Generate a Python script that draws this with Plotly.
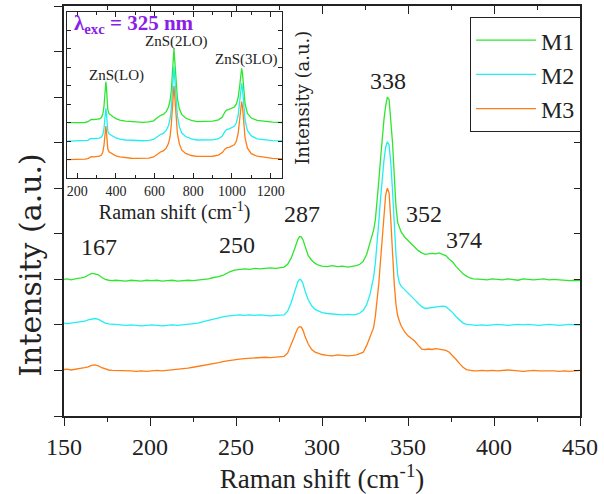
import plotly.graph_objects as go

# ---------------- main spectra ----------------
raman_shift = [150, 152, 154, 156, 158, 160, 162, 164, 166, 168, 170, 172, 174, 176, 178, 180,
               183, 186, 189, 192, 195, 198, 201, 204, 207, 210, 213, 216, 219, 222, 225, 228,
               231, 234, 237, 240, 243, 246, 249, 252, 255, 258, 261, 264, 267, 270, 273, 276,
               278, 280, 282, 284,
               285, 286, 287, 288, 289, 290,
               292, 294, 296, 298, 300,
               303, 306, 309, 312, 315, 318,
               320, 322, 324, 326, 328, 330,
               331, 332, 333, 334, 335, 336, 337, 338, 339, 340, 341, 342, 343, 344, 345, 346,
               348, 350, 352, 354, 356, 358, 360, 362, 364, 366, 368, 370, 372, 374, 376, 378,
               380, 382, 384, 386, 388, 390,
               393, 396, 399, 402, 405, 408, 411, 414, 417, 420, 423, 426, 429, 432, 435, 438,
               441, 444, 447, 450]

m1 = [3.00, 3.01, 2.99, 3.01, 3.02, 3.03, 3.05, 3.09, 3.13, 3.12, 3.10, 3.04, 3.00, 2.98, 2.97, 2.98,
      2.97, 2.96, 2.98, 2.97, 2.96, 2.98, 2.97, 2.98, 2.96, 2.97, 2.98, 2.96, 2.97, 2.98, 2.97, 2.98,
      3.00, 3.01, 3.04, 3.06, 3.10, 3.16, 3.20, 3.22, 3.23, 3.22, 3.24, 3.23, 3.24, 3.25, 3.24, 3.26,
      3.27, 3.33, 3.46, 3.66,
      3.78, 3.88, 3.94, 3.93, 3.86, 3.74,
      3.52, 3.42, 3.35, 3.31, 3.29,
      3.28, 3.30, 3.28, 3.29, 3.27, 3.29,
      3.30, 3.33, 3.40, 3.55, 3.80, 4.08,
      4.30, 4.65, 5.15, 5.62, 6.10, 6.50, 6.80, 7.00, 6.95, 6.55, 6.00, 5.30, 4.60, 4.25, 4.12, 4.04,
      3.93, 3.85, 3.78, 3.70, 3.63, 3.58, 3.55, 3.56, 3.57, 3.56, 3.58, 3.55, 3.52, 3.44, 3.38, 3.28,
      3.19, 3.12, 3.07, 3.03, 3.01, 3.00,
      3.00, 2.99, 3.01, 3.00, 2.99, 3.01, 3.00, 2.98, 3.01, 3.00, 2.99, 3.00, 3.01, 2.99, 3.00, 2.99,
      2.98, 2.97, 2.98, 2.97]

m2 = [2.04, 2.03, 2.04, 2.05, 2.05, 2.06, 2.08, 2.11, 2.13, 2.14, 2.12, 2.08, 2.04, 2.02, 2.01, 2.01,
      2.00, 1.99, 2.00, 1.99, 1.98, 1.99, 2.00, 1.99, 1.98, 1.99, 2.00, 1.99, 2.00, 2.01, 2.02, 2.04,
      2.07, 2.10, 2.13, 2.16, 2.18, 2.20, 2.21, 2.22, 2.21, 2.22, 2.21, 2.22, 2.21, 2.20, 2.21, 2.21,
      2.22, 2.30, 2.48, 2.72,
      2.85, 2.95, 3.00, 2.98, 2.90, 2.76,
      2.55, 2.42, 2.34, 2.30, 2.27,
      2.25, 2.24, 2.23, 2.22, 2.23, 2.22,
      2.23, 2.26, 2.32, 2.45, 2.68, 3.05,
      3.35, 3.75, 4.25, 4.75, 5.20, 5.60, 5.90, 6.02, 5.95, 5.55, 4.95, 4.20, 3.55, 3.10, 2.92, 2.85,
      2.78, 2.70, 2.62, 2.55, 2.47, 2.40, 2.36, 2.37, 2.38, 2.39, 2.40, 2.41, 2.40, 2.34, 2.27, 2.18,
      2.10, 2.04, 2.01, 2.00, 1.99, 1.99,
      2.00, 1.99, 2.00, 2.01, 2.00, 1.99, 2.00, 2.01, 2.00, 2.01, 2.00, 1.99, 2.00, 2.01, 2.00, 1.99,
      2.00, 2.01, 2.00, 2.00]

m3 = [1.02, 1.03, 1.01, 1.02, 1.03, 1.04, 1.06, 1.08, 1.11, 1.12, 1.10, 1.06, 1.03, 1.01, 1.00, 1.00,
      0.99, 1.00, 0.99, 0.98, 0.99, 0.98, 0.99, 1.00, 0.99, 1.00, 1.01, 1.02, 1.03, 1.05, 1.07, 1.09,
      1.10, 1.12, 1.15, 1.17, 1.20, 1.22, 1.24, 1.25, 1.26, 1.27, 1.27, 1.28, 1.29, 1.28, 1.29, 1.30,
      1.31, 1.38, 1.55, 1.75,
      1.85, 1.93, 1.96, 1.95, 1.88, 1.76,
      1.58, 1.46, 1.40, 1.37, 1.35,
      1.33, 1.32, 1.34, 1.33, 1.32, 1.33,
      1.34, 1.37, 1.40, 1.55, 1.74, 1.94,
      2.18, 2.50, 2.90, 3.40, 3.95, 4.45, 4.85, 5.00, 4.90, 4.30, 3.55, 2.90, 2.45, 2.20, 2.08, 1.98,
      1.85, 1.76, 1.70, 1.64, 1.55, 1.47, 1.46, 1.47, 1.46, 1.48, 1.47, 1.46, 1.44, 1.40, 1.33, 1.24,
      1.15, 1.07, 1.02, 1.00, 0.99, 0.99,
      1.00, 0.99, 1.00, 0.99, 1.00, 1.01, 1.00, 0.99, 0.98, 0.99, 1.00, 0.99, 0.99, 1.00, 0.99, 0.98,
      0.99, 0.98, 0.99, 1.00]

# ---------------- inset spectra ----------------
inset_shift = [150, 180, 210, 240, 255, 265, 272, 285, 300, 315,
               325, 332, 338, 342, 345, 348, 351, 354, 358, 364,
               372, 385, 400, 420, 450, 480, 510, 540, 570, 595,
               612, 622, 632, 645, 660, 672, 680, 686, 690, 694,
               697, 700, 704, 710, 718, 728, 740, 760, 790, 820,
               860, 900, 930, 950, 962, 972, 985, 1000, 1012, 1022,
               1032, 1040, 1046, 1050, 1054, 1060, 1068, 1080, 1100, 1130,
               1170, 1210, 1260]

inset_m1 = [3.00, 3.00, 3.00, 3.01, 3.05, 3.15, 3.17, 3.16, 3.17, 3.20,
            3.28, 3.45, 3.85, 4.50, 5.05, 5.22, 4.90, 4.20, 3.70, 3.50,
            3.42, 3.32, 3.22, 3.14, 3.08, 3.05, 3.03, 3.02, 3.04, 3.10,
            3.25, 3.35, 3.40, 3.45, 3.60, 3.85, 4.20, 4.70, 5.40, 6.40,
            6.95, 7.00, 6.40, 5.20, 4.30, 3.75, 3.45, 3.25, 3.12, 3.06,
            3.05, 3.08, 3.15, 3.30, 3.55, 3.68, 3.72, 3.78, 3.85, 4.00,
            4.35, 5.00, 5.70, 5.95, 5.70, 4.80, 4.00, 3.50, 3.25, 3.12,
            3.06, 3.03, 3.01]

inset_m2 = [2.00, 2.00, 2.00, 2.01, 2.04, 2.12, 2.14, 2.13, 2.14, 2.16,
            2.22, 2.35, 2.65, 3.15, 3.60, 3.78, 3.50, 2.95, 2.55, 2.40,
            2.34, 2.26, 2.18, 2.11, 2.06, 2.04, 2.03, 2.02, 2.04, 2.09,
            2.22, 2.32, 2.37, 2.42, 2.58, 2.85, 3.20, 3.75, 4.45, 5.45,
            5.98, 6.04, 5.45, 4.25, 3.35, 2.78, 2.45, 2.25, 2.12, 2.06,
            2.05, 2.07, 2.13, 2.28, 2.50, 2.62, 2.66, 2.72, 2.80, 2.98,
            3.40, 4.15, 4.90, 5.13, 4.90, 3.95, 3.10, 2.58, 2.28, 2.12,
            2.06, 2.03, 2.01]

inset_m3 = [1.00, 1.00, 1.01, 1.02, 1.05, 1.14, 1.16, 1.15, 1.16, 1.18,
            1.25, 1.40, 1.75, 2.30, 2.70, 2.82, 2.50, 1.95, 1.58, 1.42,
            1.36, 1.28, 1.20, 1.14, 1.09, 1.07, 1.06, 1.06, 1.08, 1.14,
            1.28, 1.38, 1.42, 1.47, 1.62, 1.88, 2.25, 2.85, 3.55, 4.50,
            4.95, 4.99, 4.45, 3.30, 2.40, 1.85, 1.52, 1.33, 1.22, 1.17,
            1.16, 1.18, 1.24, 1.38, 1.55, 1.63, 1.66, 1.72, 1.80, 1.98,
            2.42, 3.20, 3.95, 4.14, 3.90, 2.98, 2.15, 1.62, 1.32, 1.18,
            1.10, 1.06, 1.04]

series_names = ["M1", "M2", "M3"]
colors = ["#2ee62e", "#22eef2", "#ff7d14"]

peak_labels = ["167", "250", "287", "338", "352", "374"]
peak_label_x = [170.2, 250.7, 288.2, 338.1, 359.1, 382.5]
peak_label_y = [3.71, 3.75, 4.43, 7.35, 4.43, 3.87]

inset_labels = ["ZnS(LO)", "ZnS(2LO)", "ZnS(3LO)"]
inset_label_x = [404, 711, 1075]
inset_label_y = [5.58, 7.38, 6.40]

FONT = "Liberation Serif"
VFONT = "DejaVu Serif"

fig = go.Figure()
main_series = [m1, m2, m3]
inset_series = [inset_m1, inset_m2, inset_m3]
for name, ys, c in zip(series_names, main_series, colors):
    fig.add_trace(go.Scatter(x=raman_shift, y=ys, mode="lines", name=name,
                             line=dict(color=c, width=1.3), xaxis="x", yaxis="y"))
for name, ys, c in zip(series_names, inset_series, colors):
    fig.add_trace(go.Scatter(x=inset_shift, y=ys, mode="lines", name=name, showlegend=False,
                             line=dict(color=c, width=1.3), xaxis="x2", yaxis="y2"))
# empty trace to create mirrored top/right axes
fig.add_trace(go.Scatter(x=[], y=[], showlegend=False, xaxis="x3", yaxis="y3"))

ann = []
for t, x, y in zip(peak_labels, peak_label_x, peak_label_y):
    ann.append(dict(text=t, x=x, y=y, xref="x", yref="y", showarrow=False,
                    font=dict(family=FONT, size=24, color="#222")))
for t, x, y in zip(inset_labels, inset_label_x, inset_label_y):
    ann.append(dict(text=t, x=x, y=y, xref="x2", yref="y2", showarrow=False,
                    font=dict(family=FONT, size=15, color="#222")))
ann.append(dict(text="<b>λ<sub>exc</sub> = 325 nm</b>", x=0.015, y=0.957, xref="paper", yref="paper",
                xanchor="left", yanchor="middle", showarrow=False,
                font=dict(family=FONT, size=21, color="#8a1ee8")))
ann.append(dict(text="Intensity (a.u.)", x=-0.065, y=0.37, xref="paper", yref="paper",
                xanchor="center", yanchor="middle",
                textangle=-90, showarrow=False, font=dict(family=VFONT, size=30, color="#222")))
ann.append(dict(text="Intensity (a.u.)", x=0.463, y=0.776, xref="paper", yref="paper",
                xanchor="center", yanchor="middle",
                textangle=-90, showarrow=False, font=dict(family=VFONT, size=18, color="#222")))

axis_common = dict(showgrid=False, zeroline=False, linecolor="#222", linewidth=1.6,
                   tickcolor="#222", showline=True)

fig.update_layout(
    width=604, height=494,
    margin=dict(l=64, r=20, t=6, b=78),
    paper_bgcolor="white", plot_bgcolor="white",
    font=dict(family=FONT, color="#222"),
    xaxis=dict(range=[150, 450], tickvals=[150, 200, 250, 300, 350, 400, 450],
               ticks="outside", ticklen=8, tickwidth=1.3,
               minor=dict(dtick=25, tick0=150, ticks="outside", ticklen=4, tickcolor="#222"),
               tickfont=dict(family=FONT, size=24, color="#222"),
               title=dict(text="Raman shift (cm<sup>-1</sup>)", font=dict(family=FONT, size=27, color="#222"),
                          standoff=0),
               **axis_common),
    yaxis=dict(range=[0, 9], dtick=1, ticks="outside", ticklen=8, tickwidth=1.3,
               showticklabels=False, **axis_common),
    xaxis3=dict(range=[150, 450], overlaying="x", side="top", dtick=50, tick0=150,
                ticks="inside", ticklen=8, tickwidth=1.3, showticklabels=False,
                minor=dict(dtick=25, tick0=150, ticks="inside", ticklen=4, tickcolor="#222"),
                **axis_common),
    yaxis3=dict(range=[0, 9], overlaying="y", side="right", dtick=1, ticks="inside", ticklen=6,
                tickwidth=1.3, showticklabels=False, **axis_common),
    xaxis2=dict(domain=[0.0058, 0.423], anchor="y2", range=[147, 1260], dtick=200, tick0=200,
                ticks="inside", ticklen=5, mirror="ticks",
                minor=dict(dtick=100, ticks="inside", ticklen=3, tickcolor="#222"),
                tickfont=dict(family=FONT, size=14, color="#222"),
                title=dict(text="Raman shift (cm<sup>-1</sup>)", font=dict(family=FONT, size=20, color="#222"),
                           standoff=2),
                showgrid=False, zeroline=False, linecolor="#222", linewidth=1.3, tickcolor="#222",
                showline=True),
    yaxis2=dict(domain=[0.5805, 0.9854], anchor="x2", range=[0, 9], dtick=1, ticks="inside",
                ticklen=4, mirror="ticks", showticklabels=False,
                showgrid=False, zeroline=False, linecolor="#222", linewidth=1.3, tickcolor="#222",
                showline=True),
    legend=dict(x=1.002, xanchor="right", y=0.973, yanchor="top",
                bgcolor="white", bordercolor="#222", borderwidth=1,
                font=dict(family=FONT, size=24, color="#222"), itemwidth=60),
    annotations=ann,
    showlegend=True,
)

fig.write_html("out.html", config={"displayModeBar": False},
               post_script="document.body.style.margin='0px';")
